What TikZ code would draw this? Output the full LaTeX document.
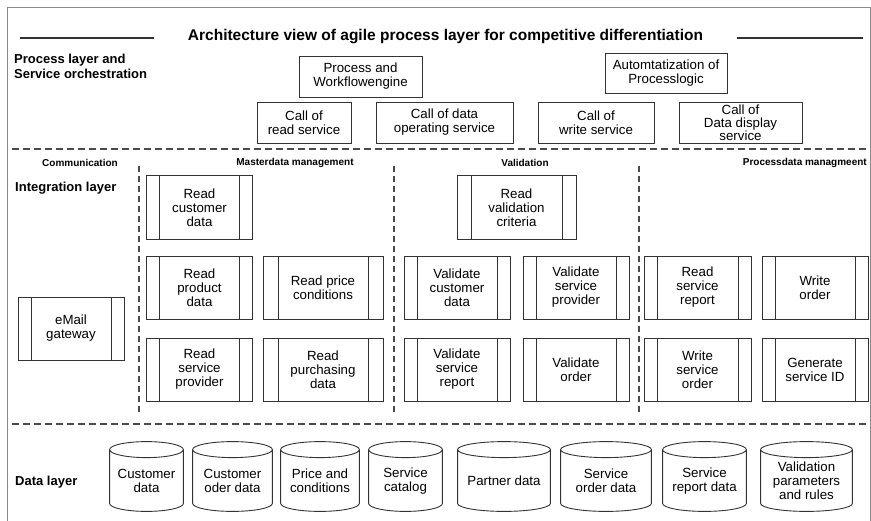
\documentclass[tikz,border=0pt]{standalone}
\usepackage{fontspec}
\setmainfont{Liberation Sans}
\usetikzlibrary{calc}
\definecolor{ln}{HTML}{333333}
\definecolor{dl}{HTML}{4A4A4A}
\definecolor{fr}{HTML}{8A8A8A}
\begin{document}
\begin{tikzpicture}[x=1pt,y=-1pt,
  every node/.style={inner sep=0pt, text=black},
  box/.style={draw=ln, line width=0.9pt, align=center, font=\fontsize{13.3}{14}\selectfont},
  mod/.style={box, minimum width=106pt, minimum height=63pt, path picture={
     \draw[ln, line width=0.9pt]
       ([xshift=#1pt]path picture bounding box.north west) -- ([xshift=#1pt]path picture bounding box.south west)
       ([xshift=-#1pt]path picture bounding box.north east) -- ([xshift=-#1pt]path picture bounding box.south east);}},
  mod/.default=13,
  cyltxt/.style={align=center, font=\fontsize{13.3}{14}\selectfont, yshift=-4.5pt},
  cyl/.style={minimum height=71pt, path picture={
     \draw[ln, line width=0.9pt] let \p1=(path picture bounding box.north west),
        \p2=(path picture bounding box.south east), \n1={(\x2-\x1)/2-0.6pt} in
       ({(\x1+\x2)/2},{\y1-8.6pt}) ellipse [x radius=\n1, y radius=8pt]
       ({\x1+0.6pt},{\y1-8.6pt}) -- ({\x1+0.6pt},{\y2+8.6pt})
       arc [start angle=180, end angle=360, x radius=\n1, y radius=8pt]
       -- ({\x2-0.6pt},{\y1-8.6pt});}},
  sect/.style={font=\bfseries\fontsize{10}{11}\selectfont},
  layer/.style={font=\bfseries\fontsize{13}{15}\selectfont, align=left, anchor=west},
  sep/.style={dl, line width=1.2pt, dash pattern=on 7pt off 4pt},
  vsep/.style={dl, line width=1.1pt, dash pattern=on 6pt off 4pt},
  rule/.style={ln, line width=1.5pt}
]
\useasboundingbox (0,0) rectangle (871,520);
% frame
\draw[fr, line width=0.9pt] (7,530) -- (7,7) -- (870,7) -- (870,530);

% title
\node[font=\bfseries\fontsize{15.5}{18}\selectfont] (title) at (445.5,37)
  {Architecture view of agile process layer for competitive differentiation};
\coordinate (tl1) at (20,38); \coordinate (tl2) at (154,38);
\coordinate (tr1) at (737,38); \coordinate (tr2) at (863,38);
\draw[rule] (tl1) -- (tl2);
\draw[rule] (tr1) -- (tr2);

% process layer
\node[layer] (lproc) at (14,66) {Process layer and\\Service orchestration};
\node[box, minimum width=123pt, minimum height=41pt] (pwe) at (360.5,76.5) {Process and\\Workflowengine};
\node[box, minimum width=122pt, minimum height=40pt] (aut) at (666,73) {Automtatization of\\Processlogic};
\node[box, minimum width=94pt, minimum height=41pt] (crs) at (304,122.5) {Call of\\read service};
\node[box, minimum width=137pt, minimum height=41pt] (cdo) at (444.5,122.5) {Call of data\\operating service};
\node[box, minimum width=116pt, minimum height=41pt] (cws) at (596,122.5) {Call of\\write service};
\node[box, minimum width=123pt, minimum height=41pt, font=\fontsize{13.3}{13}\selectfont] (cdd) at (740.5,122.5) {Call of\\Data display\\service};

% separators
\coordinate (h1a) at (12,149); \coordinate (h1b) at (868,149);
\coordinate (h2a) at (12,424); \coordinate (h2b) at (868,424);
\draw[sep] (h1a) -- (h1b);
\draw[sep] (h2a) -- (h2b);
\coordinate (v1a) at (139,166); \coordinate (v1b) at (139,413);
\coordinate (v2a) at (394,166); \coordinate (v2b) at (394,413);
\coordinate (v3a) at (639,166); \coordinate (v3b) at (639,413);
\draw[vsep] (v1a) -- (v1b);
\draw[vsep] (v2a) -- (v2b);
\draw[vsep] (v3a) -- (v3b);

% integration layer
\node[layer] (lint) at (15,188) {Integration layer};
\node[sect] (scom) at (80,163) {Communication};
\node[sect] (smd) at (295,163) {Masterdata management};
\node[sect] (sval) at (525,163) {Validation};
\node[sect, anchor=east] (spd) at (867,163) {Processdata managmeent};

\node[mod, minimum height=64pt] (rcd) at (199.5,207.5) {Read\\customer\\data};
\node[mod=14, minimum width=119pt, minimum height=64pt] (rvc) at (516.5,207.5) {Read\\validation\\criteria};

\node[mod] (email) at (71,328.5) {eMail\\gateway};

\node[mod] (rpd) at (199.5,287.5) {Read\\product\\data};
\node[mod=15, minimum width=120pt] (rpc) at (323,287.5) {Read price\\conditions};
\node[mod] (vcd) at (457,287.5) {Validate\\customer\\data};
\node[mod] (vsp) at (576,287.5) {Validate\\service\\provider};
\node[mod, minimum width=107pt] (rsr) at (697.5,287.5) {Read\\service\\report};
\node[mod] (wo) at (815,287.5) {Write\\order};

\node[mod] (rsp) at (199.5,369.5) {Read\\service\\provider};
\node[mod=15, minimum width=120pt] (rpu) at (323,369.5) {Read\\purchasing\\data};
\node[mod] (vsr) at (457,369.5) {Validate\\service\\report};
\node[mod] (vo) at (576,369.5) {Validate\\order};
\node[mod, minimum width=107pt] (wso) at (697.5,369.5) {Write\\service\\order};
\node[mod] (gsi) at (815,369.5) {Generate\\service ID};

% data layer
\node[layer] (ldat) at (15,482) {Data layer};
\node[cyl, minimum width=75pt, label={[cyltxt]center:{Customer\\data}}] (d1) at (146.5,476.5) {};
\node[cyl, minimum width=81pt, label={[cyltxt]center:{Customer\\oder data}}] (d2) at (232.5,476.5) {};
\node[cyl, minimum width=80pt, label={[cyltxt]center:{Price and\\conditions}}] (d3) at (320,476.5) {};
\node[cyl, minimum width=75pt, label={[cyltxt]center:{Service\\catalog}}] (d4) at (405.5,476.5) {};
\node[cyl, minimum width=94pt, label={[cyltxt]center:{Partner data}}] (d5) at (504,476.5) {};
\node[cyl, minimum width=92pt, label={[cyltxt]center:{Service\\order data}}] (d6) at (606,476.5) {};
\node[cyl, minimum width=85pt, label={[cyltxt]center:{Service\\report data}}] (d7) at (704.5,476.5) {};
\node[cyl, minimum width=93pt, label={[cyltxt]center:{Validation\\parameters\\and rules}}] (d8) at (806.5,476.5) {};
\end{tikzpicture}
\end{document}
